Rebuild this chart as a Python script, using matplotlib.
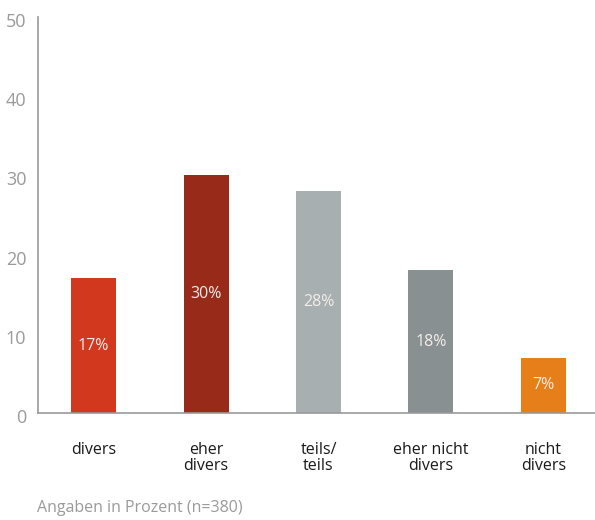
import matplotlib
matplotlib.use('Agg')
import matplotlib.pyplot as plt
import matplotlib.transforms as mtransforms

# Antworten und Anteile (Prozent)
kategorien = ['divers', 'eher\ndivers', 'teils/\nteils', 'eher nicht\ndivers', 'nicht\ndivers']
werte = [17, 30, 28, 18, 7]
farben = ['#D2381D', '#982A1A', '#A7AFB0', '#889092', '#E67E1A']
yticks = [0, 10, 20, 30, 40, 50]

plt.rcParams['font.family'] = ['Open Sans', 'DejaVu Sans']

fig = plt.figure(figsize=(5.95, 5.2), dpi=100)
ax = fig.add_axes([37.5/595, 107/520, 1 - 37.5/595, (413 - 17)/520])

x = range(len(werte))
bars = ax.bar(x, werte, width=0.4, color=farben, zorder=2)
for xi, v in zip(x, werte):
    ax.text(xi, v/2, f'{v}%', ha='center', va='center', color='#F4EDEA', fontsize=11.5)

ax.set_xlim(-0.5, 4.46)
ax.set_ylim(0, 49.5)
ax.set_yticks(yticks)
ax.set_yticklabels([str(t) for t in yticks], color='#9A9A9A', fontsize=13)
ax.tick_params(axis='y', length=0, pad=8)
ax.tick_params(axis='x', length=0, pad=21)
ax.set_xticks(list(x))
ax.set_xticklabels(kategorien, fontsize=11.5, color='#1a1a1a', linespacing=1.0, va='top')
verschiebung = mtransforms.ScaledTranslation(0, -5/100, fig.dpi_scale_trans)
for lbl in ax.get_yticklabels():
    lbl.set_verticalalignment('center')
    lbl.set_transform(lbl.get_transform() + verschiebung)

for s in ['top', 'right']:
    ax.spines[s].set_visible(False)
ax.spines['left'].set_color('#999999')
ax.spines['bottom'].set_color('#999999')
ax.spines['left'].set_linewidth(1.2)
ax.spines['bottom'].set_linewidth(1.2)

fig.text(37/595, 1 - 508/520, 'Angaben in Prozent (n=380)', color='#9A9A9A',
         fontsize=11.5, va='center', ha='left')

fig.savefig('out.png', dpi=100)
